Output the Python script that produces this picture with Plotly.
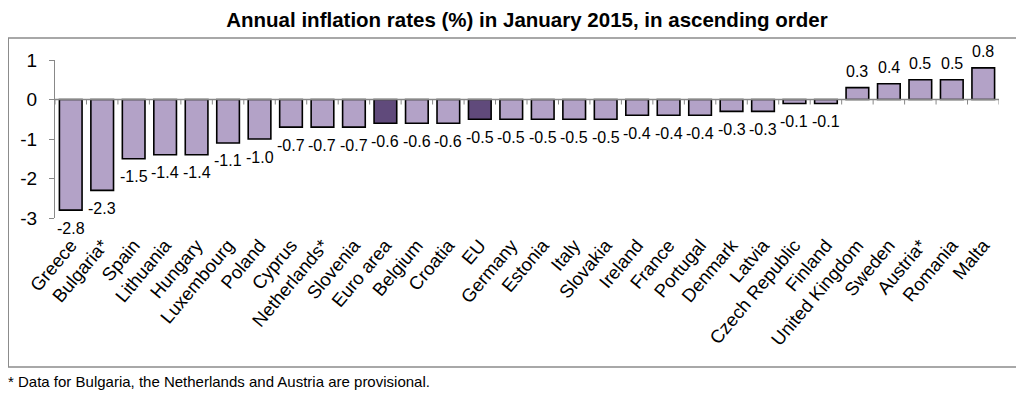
import plotly.graph_objects as go

countries = ["Greece", "Bulgaria*", "Spain", "Lithuania", "Hungary", "Luxembourg", "Poland",
             "Cyprus", "Netherlands*", "Slovenia", "Euro area", "Belgium", "Croatia", "EU",
             "Germany", "Estonia", "Italy", "Slovakia", "Ireland", "France", "Portugal",
             "Denmark", "Latvia", "Czech Republic", "Finland", "United Kingdom", "Sweden",
             "Austria*", "Romania", "Malta"]
rates = [-2.8, -2.3, -1.5, -1.4, -1.4, -1.1, -1.0, -0.7, -0.7, -0.7, -0.6, -0.6, -0.6, -0.5,
         -0.5, -0.5, -0.5, -0.5, -0.4, -0.4, -0.4, -0.3, -0.3, -0.1, -0.1, 0.3, 0.4, 0.5, 0.5, 0.8]
highlight = ["Euro area", "EU"]
y_ticks = [1, 0, -1, -2, -3]

LIGHT = "#B3A2C7"
DARK = "#604A7B"
colors = [DARK if c in highlight else LIGHT for c in countries]
FONT = "Liberation Sans, Arial, sans-serif"

# page body has an 8px margin at top/left; work in screen pixels
OFF = 8
W, H = 1024 - OFF, 394 - OFF
L, R, T, B = 50 - OFF, 25, 60 - OFF, 176
pw, ph = W - L - R, H - T - B

def px_x(px):
    return (px - OFF - L) / pw

def px_y(py):
    return (H - (py - OFF) - B) / ph

fig = go.Figure()
fig.add_trace(go.Bar(
    x=countries, y=rates,
    marker=dict(color=colors, line=dict(color="#000000", width=1.6)),
    hoverinfo="x+y",
))

annotations = []
for c, v in zip(countries, rates):
    annotations.append(dict(
        x=c, y=v, xref="x", yref="y", text=f"{v:.1f}", showarrow=False,
        xanchor="center", yanchor="middle", yshift=16 if v >= 0 else -18,
        font=dict(family=FONT, size=16, color="#000000")))

annotations.append(dict(text="* Data for Bulgaria, the Netherlands and Austria are provisional.",
                        xref="paper", yref="paper", x=px_x(1), y=px_y(381),
                        xanchor="left", yanchor="middle", showarrow=False,
                        font=dict(family=FONT, size=15, color="#000000")))

shapes = []
for i in range(len(countries) + 1):
    shapes.append(dict(type="line", xref="x", yref="y", x0=i - 0.5, x1=i - 0.5,
                       ysizemode="pixel", yanchor=0, y0=0, y1=-5,
                       line=dict(color="#888888", width=1)))
shapes.append(dict(type="line", xref="paper", yref="y", x0=0, x1=1, y0=0, y1=0,
                   line=dict(color="#888888", width=1.3), layer="above"))
shapes.append(dict(type="rect", xref="paper", yref="paper",
                   x0=px_x(3), x1=px_x(1020), y0=px_y(367), y1=px_y(38),
                   line=dict(color="#8C8C8C", width=1.5)))

fig.update_layout(
    width=W, height=H,
    margin=dict(l=L, r=R, t=T, b=B),
    paper_bgcolor="white", plot_bgcolor="white",
    showlegend=False,
    bargap=0.28,
    shapes=shapes,
    annotations=annotations,
    title=dict(text="<b>Annual inflation rates (%) in January 2015, in ascending order</b>",
               x=0.5, xref="paper", xanchor="center", y=1 - (20 - OFF) / H, yanchor="middle",
               font=dict(family=FONT, size=20.5, color="#000000")),
    xaxis=dict(type="category", tickangle=-50, showline=False, showgrid=False,
               ticks="", tickfont=dict(family=FONT, size=18.5, color="#000000"),
               ticklabelstandoff=12,
               range=[-0.5, len(countries) - 0.5], fixedrange=True),
    yaxis=dict(range=[-3, 1], tickvals=y_ticks, ticktext=[str(v) for v in y_ticks],
               showgrid=False, zeroline=False, showline=True, linecolor="#888888",
               linewidth=1.3, ticks="outside", ticklen=5, tickcolor="#888888",
               ticklabelstandoff=8,
               tickfont=dict(family=FONT, size=19, color="#000000"), fixedrange=True),
)

fig.write_html("out.html")
